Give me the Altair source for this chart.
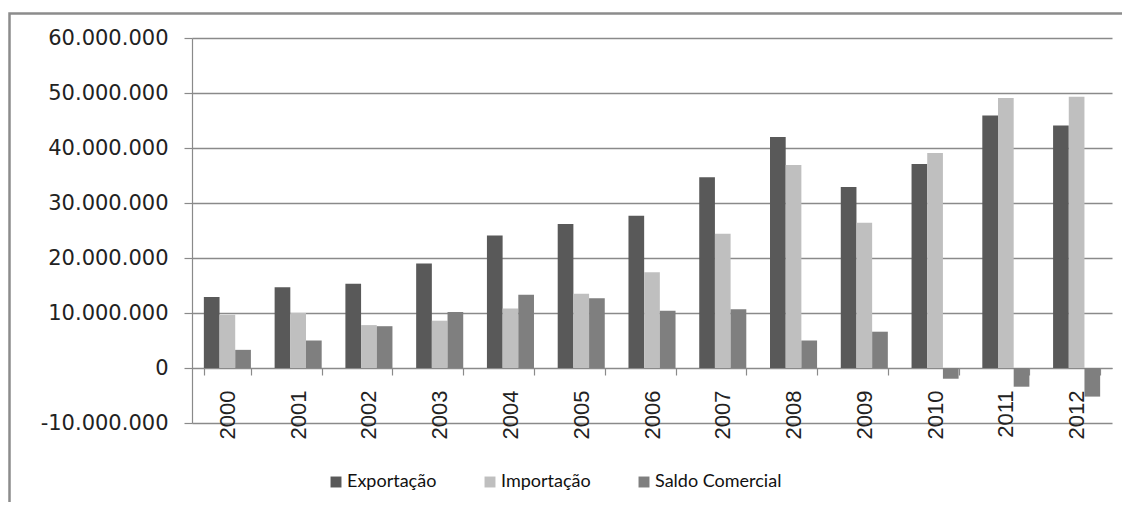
import altair as alt
import pandas as pd

anos = ["2000", "2001", "2002", "2003", "2004", "2005", "2006",
        "2007", "2008", "2009", "2010", "2011", "2012"]
exportacao = [12.9e6, 14.7e6, 15.3e6, 19.0e6, 24.1e6, 26.2e6, 27.7e6,
              34.7e6, 42.0e6, 32.9e6, 37.1e6, 45.9e6, 44.1e6]
importacao = [9.7e6, 10.0e6, 7.8e6, 8.6e6, 10.8e6, 13.5e6, 17.4e6,
              24.4e6, 36.9e6, 26.4e6, 39.1e6, 49.1e6, 49.3e6]
saldo = [3.3e6, 5.0e6, 7.6e6, 10.2e6, 13.3e6, 12.7e6, 10.4e6,
         10.7e6, 5.0e6, 6.6e6, -1.95e6, -3.4e6, -5.2e6]
series = ["Exportação", "Importação", "Saldo Comercial"]
cores = ["#595959", "#bfbfbf", "#7f7f7f"]
y_ticks = [-10e6, 0, 10e6, 20e6, 30e6, 40e6, 50e6, 60e6]
titulo = "FOB"

rows = []
for i, a in enumerate(anos):
    rows.append({"ano": a, "serie": series[0], "valor": exportacao[i]})
    rows.append({"ano": a, "serie": series[1], "valor": importacao[i]})
    rows.append({"ano": a, "serie": series[2], "valor": saldo[i]})
df = pd.DataFrame(rows)

label_expr = "replace(replace(format(datum.value, ','), regexp(',', 'g'), '.'), '\u2212', '-')"

bars = alt.Chart(df).mark_bar().encode(
    x=alt.X("ano:N", sort=anos,
            scale=alt.Scale(paddingInner=0.335, paddingOuter=0.1675),
            axis=alt.Axis(title=None, orient="bottom", offset=-55,
                          domainColor="#8a8a8a", domainWidth=1.2,
                          tickColor="#8a8a8a", tickSize=7, tickWidth=1.2,
                          tickBand="extent", labelAngle=-90, labelPadding=15,
                          labelFont="Liberation Sans", labelFontSize=22,
                          labelColor="#222222", labelOverlap=False, grid=False)),
    xOffset=alt.XOffset("serie:N", sort=series),
    y=alt.Y("valor:Q",
            scale=alt.Scale(domain=[-10e6, 60e6], nice=False, zero=False),
            axis=alt.Axis(title=None, values=y_ticks, labelExpr=label_expr,
                          grid=True, gridColor="#8a8a8a", gridWidth=1.3,
                          domainColor="#8a8a8a", domainWidth=1.2,
                          tickColor="#8a8a8a", tickSize=8, tickWidth=1.2,
                          labelPadding=16, labelFont="DejaVu Sans",
                          labelFontSize=21, labelColor="#222222")),
    color=alt.Color("serie:N", sort=series,
                    scale=alt.Scale(domain=series, range=cores),
                    legend=alt.Legend(title=None, orient="none",
                                      direction="horizontal",
                                      legendX=135, legendY=435,
                                      symbolType="square", symbolSize=120,
                                      symbolStrokeWidth=0, symbolOpacity=1,
                                      labelFont="Lato", labelFontSize=18,
                                      labelColor="#111111", labelOffset=2,
                                      columnPadding=44)),
)

frame = alt.Chart(pd.DataFrame({"k": [0]})).mark_rect(
    fillOpacity=0, stroke="#8c8c8c", strokeWidth=2.5
).encode(
    x=alt.value(-182.5), x2=alt.value(1500),
    y=alt.value(-24.5), y2=alt.value(900),
)

title = alt.Chart(pd.DataFrame({"t": [titulo]})).mark_text(
    font="Liberation Sans", fontSize=18, fontWeight="bold",
    baseline="bottom", align="center", color="#000000"
).encode(text="t:N", x=alt.value(381), y=alt.value(-29))

chart = alt.layer(frame, bars, title).properties(
    width=920, height=385,
    autosize=alt.AutoSizeParams(type="none"),
    padding={"left": 184, "top": 30, "right": 10, "bottom": 79},
).configure_view(stroke=None)

chart.save("out.html", embed_options={"renderer": "svg", "actions": False})
